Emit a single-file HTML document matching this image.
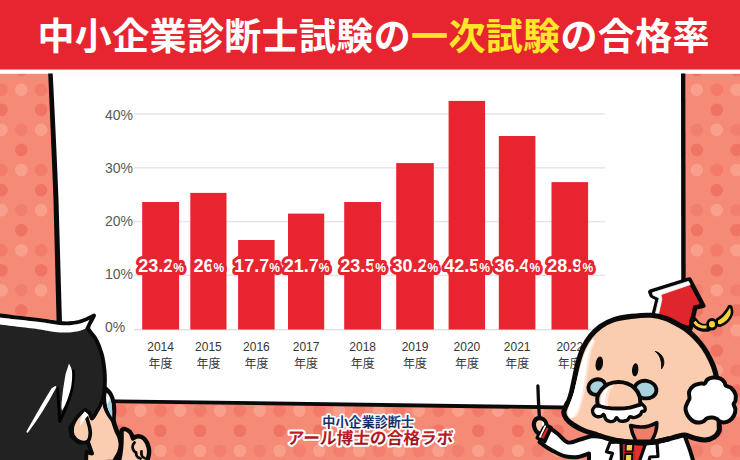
<!DOCTYPE html>
<html lang="ja"><head><meta charset="utf-8"><title>中小企業診断士試験の一次試験の合格率</title>
<style>
html,body{margin:0;padding:0;background:#fff;}
body{width:740px;height:460px;overflow:hidden;position:relative;font-family:"Liberation Sans",sans-serif;}
#stage{position:absolute;left:0;top:0;width:740px;height:460px;background:#f58a77;overflow:hidden;}
#stage svg{position:absolute;left:0;top:0;display:block;}
.sr{position:absolute;left:0;top:0;width:1px;height:1px;overflow:hidden;clip:rect(0 0 0 0);clip-path:inset(50%);white-space:nowrap;font-size:1px;color:transparent;}
</style></head><body>
<div id="stage">
<svg width="740" height="460" viewBox="0 0 740 460" role="img" aria-label="中小企業診断士試験の一次試験の合格率">
<g style="filter:blur(0.5px)"><circle cx="1.4" cy="89.8" r="6.3" fill="#f27b6a"/><circle cx="1.4" cy="109.8" r="6.3" fill="#f07463"/><circle cx="1.4" cy="129.9" r="6.3" fill="#f9a08c"/><circle cx="1.4" cy="170.0" r="6.3" fill="#f27b6a"/><circle cx="1.4" cy="190.1" r="6.3" fill="#f07463"/><circle cx="1.4" cy="210.1" r="6.3" fill="#f9a08c"/><circle cx="1.4" cy="250.2" r="6.3" fill="#f27b6a"/><circle cx="1.4" cy="270.2" r="6.3" fill="#f07463"/><circle cx="1.4" cy="290.3" r="6.3" fill="#f9a08c"/><circle cx="1.4" cy="410.6" r="6.3" fill="#f27b6a"/><circle cx="1.4" cy="430.7" r="6.3" fill="#f07463"/><circle cx="1.4" cy="450.7" r="6.3" fill="#f9a08c"/><circle cx="21.3" cy="69.8" r="6.3" fill="#f07463"/><circle cx="21.3" cy="89.8" r="6.3" fill="#f9a08c"/><circle cx="21.3" cy="129.9" r="6.3" fill="#f27f6e"/><circle cx="21.3" cy="149.9" r="6.3" fill="#f07463"/><circle cx="21.3" cy="170.0" r="6.3" fill="#f9a08c"/><circle cx="21.3" cy="210.1" r="6.3" fill="#f27f6e"/><circle cx="21.3" cy="230.1" r="6.3" fill="#f07463"/><circle cx="21.3" cy="250.2" r="6.3" fill="#f9a08c"/><circle cx="21.3" cy="290.3" r="6.3" fill="#f27f6e"/><circle cx="21.3" cy="310.4" r="6.3" fill="#f07463"/><circle cx="21.3" cy="410.6" r="6.3" fill="#f9a08c"/><circle cx="21.3" cy="450.7" r="6.3" fill="#f27f6e"/><circle cx="41.1" cy="89.8" r="6.3" fill="#f27b6a"/><circle cx="41.1" cy="109.8" r="6.3" fill="#f07463"/><circle cx="41.1" cy="129.9" r="6.3" fill="#f9a08c"/><circle cx="41.1" cy="170.0" r="6.3" fill="#f27b6a"/><circle cx="41.1" cy="190.1" r="6.3" fill="#f07463"/><circle cx="41.1" cy="210.1" r="6.3" fill="#f9a08c"/><circle cx="41.1" cy="250.2" r="6.3" fill="#f27b6a"/><circle cx="41.1" cy="270.2" r="6.3" fill="#f07463"/><circle cx="41.1" cy="290.3" r="6.3" fill="#f9a08c"/><circle cx="41.1" cy="410.6" r="6.3" fill="#f27b6a"/><circle cx="41.1" cy="430.7" r="6.3" fill="#f07463"/><circle cx="41.1" cy="450.7" r="6.3" fill="#f9a08c"/><circle cx="61.0" cy="410.6" r="6.3" fill="#f9a08c"/><circle cx="61.0" cy="450.7" r="6.3" fill="#f27f6e"/><circle cx="80.9" cy="410.6" r="6.3" fill="#f27b6a"/><circle cx="80.9" cy="430.7" r="6.3" fill="#f07463"/><circle cx="80.9" cy="450.7" r="6.3" fill="#f9a08c"/><circle cx="100.8" cy="410.6" r="6.3" fill="#f9a08c"/><circle cx="100.8" cy="450.7" r="6.3" fill="#f27f6e"/><circle cx="120.6" cy="410.6" r="6.3" fill="#f27b6a"/><circle cx="120.6" cy="430.7" r="6.3" fill="#f07463"/><circle cx="120.6" cy="450.7" r="6.3" fill="#f9a08c"/><circle cx="140.5" cy="410.6" r="6.3" fill="#f9a08c"/><circle cx="140.5" cy="450.7" r="6.3" fill="#f27f6e"/><circle cx="160.4" cy="410.6" r="6.3" fill="#f27b6a"/><circle cx="160.4" cy="430.7" r="6.3" fill="#f07463"/><circle cx="160.4" cy="450.7" r="6.3" fill="#f9a08c"/><circle cx="180.2" cy="410.6" r="6.3" fill="#f9a08c"/><circle cx="180.2" cy="450.7" r="6.3" fill="#f27f6e"/><circle cx="200.1" cy="410.6" r="6.3" fill="#f27b6a"/><circle cx="200.1" cy="430.7" r="6.3" fill="#f07463"/><circle cx="200.1" cy="450.7" r="6.3" fill="#f9a08c"/><circle cx="220.0" cy="410.6" r="6.3" fill="#f9a08c"/><circle cx="220.0" cy="450.7" r="6.3" fill="#f27f6e"/><circle cx="239.8" cy="410.6" r="6.3" fill="#f27b6a"/><circle cx="239.8" cy="430.7" r="6.3" fill="#f07463"/><circle cx="239.8" cy="450.7" r="6.3" fill="#f9a08c"/><circle cx="259.7" cy="410.6" r="6.3" fill="#f9a08c"/><circle cx="259.7" cy="450.7" r="6.3" fill="#f27f6e"/><circle cx="279.6" cy="410.6" r="6.3" fill="#f27b6a"/><circle cx="279.6" cy="430.7" r="6.3" fill="#f07463"/><circle cx="279.6" cy="450.7" r="6.3" fill="#f9a08c"/><circle cx="299.4" cy="410.6" r="6.3" fill="#f9a08c"/><circle cx="299.4" cy="450.7" r="6.3" fill="#f27f6e"/><circle cx="319.3" cy="410.6" r="6.3" fill="#f27b6a"/><circle cx="319.3" cy="430.7" r="6.3" fill="#f07463"/><circle cx="319.3" cy="450.7" r="6.3" fill="#f9a08c"/><circle cx="339.2" cy="410.6" r="6.3" fill="#f9a08c"/><circle cx="339.2" cy="450.7" r="6.3" fill="#f27f6e"/><circle cx="359.1" cy="410.6" r="6.3" fill="#f27b6a"/><circle cx="359.1" cy="430.7" r="6.3" fill="#f07463"/><circle cx="359.1" cy="450.7" r="6.3" fill="#f9a08c"/><circle cx="378.9" cy="410.6" r="6.3" fill="#f9a08c"/><circle cx="378.9" cy="450.7" r="6.3" fill="#f27f6e"/><circle cx="398.8" cy="410.6" r="6.3" fill="#f27b6a"/><circle cx="398.8" cy="430.7" r="6.3" fill="#f07463"/><circle cx="398.8" cy="450.7" r="6.3" fill="#f9a08c"/><circle cx="418.7" cy="410.6" r="6.3" fill="#f9a08c"/><circle cx="418.7" cy="450.7" r="6.3" fill="#f27f6e"/><circle cx="438.5" cy="410.6" r="6.3" fill="#f27b6a"/><circle cx="438.5" cy="430.7" r="6.3" fill="#f07463"/><circle cx="438.5" cy="450.7" r="6.3" fill="#f9a08c"/><circle cx="458.4" cy="410.6" r="6.3" fill="#f9a08c"/><circle cx="458.4" cy="450.7" r="6.3" fill="#f27f6e"/><circle cx="478.3" cy="410.6" r="6.3" fill="#f27b6a"/><circle cx="478.3" cy="430.7" r="6.3" fill="#f07463"/><circle cx="478.3" cy="450.7" r="6.3" fill="#f9a08c"/><circle cx="498.1" cy="410.6" r="6.3" fill="#f9a08c"/><circle cx="498.1" cy="450.7" r="6.3" fill="#f27f6e"/><circle cx="518.0" cy="410.6" r="6.3" fill="#f27b6a"/><circle cx="518.0" cy="430.7" r="6.3" fill="#f07463"/><circle cx="518.0" cy="450.7" r="6.3" fill="#f9a08c"/><circle cx="537.9" cy="410.6" r="6.3" fill="#f9a08c"/><circle cx="537.9" cy="450.7" r="6.3" fill="#f27f6e"/><circle cx="557.8" cy="410.6" r="6.3" fill="#f27b6a"/><circle cx="557.8" cy="430.7" r="6.3" fill="#f07463"/><circle cx="557.8" cy="450.7" r="6.3" fill="#f9a08c"/><circle cx="577.6" cy="410.6" r="6.3" fill="#f9a08c"/><circle cx="577.6" cy="450.7" r="6.3" fill="#f27f6e"/><circle cx="597.5" cy="410.6" r="6.3" fill="#f27b6a"/><circle cx="597.5" cy="430.7" r="6.3" fill="#f07463"/><circle cx="597.5" cy="450.7" r="6.3" fill="#f9a08c"/><circle cx="617.4" cy="410.6" r="6.3" fill="#f9a08c"/><circle cx="617.4" cy="450.7" r="6.3" fill="#f27f6e"/><circle cx="637.2" cy="410.6" r="6.3" fill="#f27b6a"/><circle cx="637.2" cy="430.7" r="6.3" fill="#f07463"/><circle cx="637.2" cy="450.7" r="6.3" fill="#f9a08c"/><circle cx="657.1" cy="410.6" r="6.3" fill="#f9a08c"/><circle cx="657.1" cy="450.7" r="6.3" fill="#f27f6e"/><circle cx="677.0" cy="410.6" r="6.3" fill="#f27b6a"/><circle cx="677.0" cy="430.7" r="6.3" fill="#f07463"/><circle cx="677.0" cy="450.7" r="6.3" fill="#f9a08c"/><circle cx="696.9" cy="69.8" r="6.3" fill="#f07463"/><circle cx="696.9" cy="89.8" r="6.3" fill="#f9a08c"/><circle cx="696.9" cy="129.9" r="6.3" fill="#f27f6e"/><circle cx="696.9" cy="149.9" r="6.3" fill="#f07463"/><circle cx="696.9" cy="170.0" r="6.3" fill="#f9a08c"/><circle cx="696.9" cy="210.1" r="6.3" fill="#f27f6e"/><circle cx="696.9" cy="230.1" r="6.3" fill="#f07463"/><circle cx="696.9" cy="250.2" r="6.3" fill="#f9a08c"/><circle cx="696.9" cy="290.3" r="6.3" fill="#f27f6e"/><circle cx="696.9" cy="310.4" r="6.3" fill="#f07463"/><circle cx="696.9" cy="330.4" r="6.3" fill="#f9a08c"/><circle cx="696.9" cy="370.5" r="6.3" fill="#f27f6e"/><circle cx="696.9" cy="390.6" r="6.3" fill="#f07463"/><circle cx="696.9" cy="410.6" r="6.3" fill="#f9a08c"/><circle cx="696.9" cy="450.7" r="6.3" fill="#f27f6e"/><circle cx="716.7" cy="89.8" r="6.3" fill="#f27b6a"/><circle cx="716.7" cy="109.8" r="6.3" fill="#f07463"/><circle cx="716.7" cy="129.9" r="6.3" fill="#f9a08c"/><circle cx="716.7" cy="170.0" r="6.3" fill="#f27b6a"/><circle cx="716.7" cy="190.1" r="6.3" fill="#f07463"/><circle cx="716.7" cy="210.1" r="6.3" fill="#f9a08c"/><circle cx="716.7" cy="250.2" r="6.3" fill="#f27b6a"/><circle cx="716.7" cy="270.2" r="6.3" fill="#f07463"/><circle cx="716.7" cy="290.3" r="6.3" fill="#f9a08c"/><circle cx="716.7" cy="330.4" r="6.3" fill="#f27b6a"/><circle cx="716.7" cy="350.5" r="6.3" fill="#f07463"/><circle cx="716.7" cy="370.5" r="6.3" fill="#f9a08c"/><circle cx="716.7" cy="410.6" r="6.3" fill="#f27b6a"/><circle cx="716.7" cy="430.7" r="6.3" fill="#f07463"/><circle cx="716.7" cy="450.7" r="6.3" fill="#f9a08c"/><circle cx="736.6" cy="69.8" r="6.3" fill="#f07463"/><circle cx="736.6" cy="89.8" r="6.3" fill="#f9a08c"/><circle cx="736.6" cy="129.9" r="6.3" fill="#f27f6e"/><circle cx="736.6" cy="149.9" r="6.3" fill="#f07463"/><circle cx="736.6" cy="170.0" r="6.3" fill="#f9a08c"/><circle cx="736.6" cy="210.1" r="6.3" fill="#f27f6e"/><circle cx="736.6" cy="230.1" r="6.3" fill="#f07463"/><circle cx="736.6" cy="250.2" r="6.3" fill="#f9a08c"/><circle cx="736.6" cy="290.3" r="6.3" fill="#f27f6e"/><circle cx="736.6" cy="310.4" r="6.3" fill="#f07463"/><circle cx="736.6" cy="330.4" r="6.3" fill="#f9a08c"/><circle cx="736.6" cy="370.5" r="6.3" fill="#f27f6e"/><circle cx="736.6" cy="390.6" r="6.3" fill="#f07463"/><circle cx="736.6" cy="410.6" r="6.3" fill="#f9a08c"/><circle cx="736.6" cy="450.7" r="6.3" fill="#f27f6e"/></g>
<rect x="0" y="69" width="740" height="4.8" fill="#fff"/>
<path d="M50.2 73.5 L683 73.5 L683 409 L600 408 L100 401 L59.5 400 L56 200 Z" fill="#fff"/>
<path d="M48.2 73.5 L52.7 73.5 Q56.6 150 58.5 200 L62.2 330 L56.8 330 L53.5 200 Q51.6 150 48.2 73.5 Z" fill="#0a0a0a"/>
<path d="M681 73.5 L685.3 73.5 L685.8 340 L681.3 340 Z" fill="#0a0a0a"/>
<path d="M100 399.3 L600 405.9 L600 409.9 L100 402.9 Z" fill="#0a0a0a"/>
<rect x="134" y="113.2" width="471" height="1.5" fill="#e6e6e6"/>
<rect x="134" y="167.1" width="471" height="1.5" fill="#e6e6e6"/>
<rect x="134" y="220.9" width="471" height="1.5" fill="#e6e6e6"/>
<rect x="134" y="274.6" width="471" height="1.5" fill="#e6e6e6"/>
<rect x="134" y="329" width="471" height="1.3" fill="#ddd"/>
<rect x="142.2" y="202.0" width="36.9" height="127.5" fill="#e72430"/>
<rect x="190.3" y="192.9" width="36.2" height="136.6" fill="#e72430"/>
<rect x="238.1" y="240.0" width="36.5" height="89.5" fill="#e72430"/>
<rect x="288.0" y="213.6" width="36.2" height="115.9" fill="#e72430"/>
<rect x="344.2" y="202.0" width="36.9" height="127.5" fill="#e72430"/>
<rect x="396.2" y="163.1" width="37.6" height="166.4" fill="#e72430"/>
<rect x="448.6" y="100.9" width="36.5" height="228.6" fill="#e72430"/>
<rect x="498.8" y="136.0" width="36.6" height="193.5" fill="#e72430"/>
<rect x="551.5" y="182.1" width="36.6" height="147.4" fill="#e72430"/>
<g font-family="'Liberation Sans', 'Noto Sans CJK JP', sans-serif" font-size="14" fill="#595959">
<text x="105" y="120">40%</text>
<text x="105" y="173">30%</text>
<text x="105" y="226">20%</text>
<text x="105" y="279">10%</text>
<text x="105" y="332">0%</text>
</g>
<g font-family="'Liberation Sans', 'Noto Sans CJK JP', sans-serif" font-size="12" fill="#363636" text-anchor="middle">
<text x="160.6" y="351.1">2014</text><text x="160.6" y="368.4">年度</text>
<text x="208.4" y="351.1">2015</text><text x="208.4" y="368.4">年度</text>
<text x="256.4" y="351.1">2016</text><text x="256.4" y="368.4">年度</text>
<text x="306.1" y="351.1">2017</text><text x="306.1" y="368.4">年度</text>
<text x="362.7" y="351.1">2018</text><text x="362.7" y="368.4">年度</text>
<text x="415" y="351.1">2019</text><text x="415" y="368.4">年度</text>
<text x="466.9" y="351.1">2020</text><text x="466.9" y="368.4">年度</text>
<text x="517.2" y="351.1">2021</text><text x="517.2" y="368.4">年度</text>
<text x="569.8" y="351.1">2022</text><text x="569.8" y="368.4">年度</text>
</g>
<g font-family="'Liberation Sans', 'Noto Sans CJK JP', sans-serif" font-size="18" font-weight="bold" fill="#fff" stroke="#e72430" stroke-width="6" stroke-linejoin="round" paint-order="stroke" text-anchor="middle">
<text x="161" y="272">23.2<tspan font-size="12">%</tspan></text>
<text x="208.8" y="272">26<tspan font-size="12">%</tspan></text>
<text x="257" y="272">17.7<tspan font-size="12">%</tspan></text>
<text x="306.5" y="272">21.7<tspan font-size="12">%</tspan></text>
<text x="363" y="272">23.5<tspan font-size="12">%</tspan></text>
<text x="415.3" y="272">30.2<tspan font-size="12">%</tspan></text>
<text x="467" y="272">42.5<tspan font-size="12">%</tspan></text>
<text x="517.4" y="272">36.4<tspan font-size="12">%</tspan></text>
<text x="570.2" y="272">28.9<tspan font-size="12">%</tspan></text>
</g>
<rect x="0" y="0" width="740" height="69.5" fill="#e72530"/>
<text x="37.5" y="49.5" font-family="'Liberation Sans', 'Noto Sans CJK JP', sans-serif" font-size="37" font-weight="bold" fill="#fff" textLength="672" lengthAdjust="spacing">中小企業診断士試験の<tspan fill="#ffe629">一次試験</tspan>の合格率</text>
<defs><linearGradient id="gn" x1="0" y1="0" x2="0" y2="1"><stop offset="0" stop-color="#21407f"/><stop offset="1" stop-color="#0f1f55"/></linearGradient><linearGradient id="gr" x1="0" y1="0" x2="0" y2="1"><stop offset="0" stop-color="#cf222e"/><stop offset="1" stop-color="#86121d"/></linearGradient></defs>
<text x="368.2" y="427.3" text-anchor="middle" font-family="'Liberation Sans', 'Noto Sans CJK JP', sans-serif" font-size="13.1" font-weight="bold" fill="url(#gn)" stroke="#fff" stroke-width="3.4" stroke-linejoin="round" paint-order="stroke">中小企業診断士</text>
<g transform="translate(286 443.8) skewX(-4)">
<text x="1" y="0" font-family="'Liberation Sans', 'Noto Sans CJK JP', sans-serif" font-size="16.7" font-weight="bold" fill="url(#gr)" stroke="#fff" stroke-width="4" stroke-linejoin="round" paint-order="stroke">アール博士の合格ラボ</text>
</g>
<g stroke-linejoin="round" stroke-linecap="round">
<path d="M104 392C105 394.2 108.4 400.2 110 405C111.6 409.8 112.3 416.8 113.4 421C114.5 425.2 115.6 427.8 116.6 430.5C117.6 433.2 118.9 434.8 119.6 437C120.3 439.2 121 441.4 121 444C121 446.6 120.6 449.5 119.4 452.5C118.2 455.5 114.9 460.4 114 462L70 464 L80 410 Z" fill="#fbcdb0" stroke="#0a0a0a" stroke-width="4.8"/>
<path d="M121.5 431 C123 428 127 428.5 130 432 C132 434.5 132.5 437 133 438.5 C136 435.5 141 435.5 144.5 439 C148.5 443.5 150.5 451 148 458 L146 464 L118 464 C121 455 122 445 121.5 431 Z" fill="#fbcdb0" stroke="#0a0a0a" stroke-width="4.4"/>
<path d="M134.5 442.5 C131.5 445.5 132 450.5 136 452.5 M136 452.5 C136 456 138 458 140.5 458.5 M141.5 451.5 C141 455 142.5 457.5 144.5 458" fill="none" stroke="#0a0a0a" stroke-width="2.8"/>
<path d="M-6 314.6C-5 314.8 -4.3 314.9 0 315.5C4.3 316.1 13.3 317.1 20 317.9C26.7 318.7 35 319.5 40 320.1C45 320.7 46.5 321.1 49.8 321.6C53 322.1 56.2 322.7 59.5 323C62.8 323.3 66 323.5 69.3 323.3C72.6 323.1 76.2 322.5 79.1 321.9C81.9 321.2 83.9 320.4 86.4 319.4C88.9 318.3 92.7 316.2 94 315.6C93.5 316.6 92 319.4 91 321.5C90 323.6 87.7 325.9 88.3 328.5C88.9 331.1 93 334.6 94.7 337.3C96.4 340 97.5 342.5 98.5 344.8C99.5 347.1 100 348.8 100.7 351C101.4 353.2 102.1 354.9 102.7 358C103.3 361.1 104 365.9 104.4 369.6C104.8 373.3 104.9 376.6 104.9 380C104.9 383.4 104.6 388.3 104.6 390C104.3 391.3 103.8 395.3 103 398C102.2 400.7 101 403.4 99.8 406C98.5 408.6 96.8 411.4 95.5 413.5C94.2 415.6 93 418.6 92 418.5C91 418.4 90.8 414.4 89.6 413C88.4 411.6 85.8 410.3 85 409.8L76 420 L70 427.5 L71.5 436 L79 442.5 L88 442 L92 453.5 L86.5 452 L86 464 L-6 464 Z" fill="#222222" stroke="#0a0a0a" stroke-width="3.9"/>
<path d="M-6 316.5C-5 316.6 -4.3 316.8 0 317.4C4.3 317.9 13.3 319 20 319.8C26.7 320.6 35 321.4 40 322C45 322.6 46.5 323 49.8 323.5C53 324 56.2 324.6 59.5 324.9C62.8 325.2 66 325.4 69.3 325.2C72.6 325 76.2 324.4 79.1 323.8C81.9 323.1 84.7 322 86.4 321.3C88.2 320.6 89.1 319.7 89.6 319.4L85 329C84 329.3 81.7 330.3 79.1 330.9C76.5 331.5 72.6 332.1 69.3 332.4C66 332.6 62.8 332.6 59.5 332.4C56.2 332.2 53 331.7 49.8 331.2C46.5 330.7 45 330.1 40 329.4C35 328.7 26.7 327.8 20 327C13.3 326.2 4.3 325 0 324.5C-4.3 324 -5 323.9 -6 323.8Z" fill="#fff"/>
<path d="M73.4 371 C74.4 386 69 403 59.7 421.5 L57.6 388.5" fill="none" stroke="#000" stroke-width="2.8"/>
<path d="M69 363.6C69.5 364.9 71.6 367.7 72 371.5C72.4 375.3 72.1 381.5 71.2 386.4C70.3 391.3 68.3 396.9 66.8 401C65.3 405.1 62.9 409.2 62.1 410.8C62 410 61.3 409.1 61.4 406C61.5 402.9 62.1 397.3 62.8 392C63.5 386.7 65.1 377 65.6 374Z" fill="#fff"/>
<path d="M55.4 387 C48 401 38.5 417 27.4 431.8 C34 420 43 404 52.4 388.8 Z" fill="#fff" stroke="#fff" stroke-width="1.9"/>
<path d="M84.6 410.3C83.7 411.1 80.6 413.2 79 415C77.4 416.8 75.9 418.8 74.8 420.9C73.7 423 72.6 424.9 72.3 427.4C72 429.8 71.8 433.2 73 435.6C74.2 438 77.2 440.7 79.7 441.6C82.2 442.6 86 442.6 87.8 441.3C89.6 440 90 436.4 90.3 434C90.6 431.6 89.6 428.2 89.5 427 Z" fill="#fbcdb0" stroke="#0a0a0a" stroke-width="3.6"/>
<path d="M85 411 C81.5 415 79.8 420 80.6 426 C82.8 421.5 85.8 417.6 88.6 415 Z" fill="#fff"/>
<path d="M89.5 427.4 C90.8 432 90.2 437.5 87.8 441.6 M87.8 442 C89 446 90.4 450 91.9 453.5" fill="none" stroke="#0a0a0a" stroke-width="2.6"/>
<path d="M104 392C103.8 393 103.7 395.7 103 398C102.3 400.3 101 403.4 99.8 406C98.5 408.6 96.8 411.4 95.5 413.5C94.2 415.6 93 418.6 92 418.5C91 418.4 90.7 414.4 89.6 413C88.5 411.6 86.2 410.3 85.5 409.8L84 404 L96 392 Z" fill="#222222"/>
<path d="M104 392C103.8 393 103.7 395.7 103 398C102.3 400.3 101 403.4 99.8 406C98.5 408.6 96.8 411.4 95.5 413.5C94.2 415.6 93 418.6 92 418.5C91 418.4 90.7 414.4 89.6 413C88.5 411.6 86.2 410.3 85.5 409.8" fill="none" stroke="#0a0a0a" stroke-width="3.4"/>
<path d="M105.2 388.2C106.1 389.2 109.2 391.7 110.6 394C112 396.3 112.8 399.2 113.4 402C114 404.8 114.2 407.8 114.2 411C114.2 414.2 113.5 419.3 113.4 421C112.6 419.9 110 416.8 108.6 414.5C107.2 412.2 106 409.8 105.2 407C104.4 404.2 104 401.1 104 398C104 394.9 105 389.8 105.2 388.2Z" fill="#fff" stroke="#0a0a0a" stroke-width="4.2"/>
<path d="M109.8 398.5 C112 403.5 112.6 410.5 112.2 417.6 C109.6 413.6 107.6 409 106.8 404.4 C108.2 403 109.3 400.8 109.8 398.5 Z" fill="#a6d8e4"/>
</g>
<g stroke-linejoin="round" stroke-linecap="round">
<path d="M549 427.5C550.5 428.6 554.8 431.5 558 434C561.2 436.5 564.3 441.6 568 442.5C571.7 443.4 576 440.6 580 439.5C584 438.4 590 436.6 592 436L640 440 L684.4 435C684.8 436.1 685.8 438.8 686.8 441.5C687.8 444.2 689 447.2 690.2 451C691.4 454.8 693.5 461.8 694.2 464L589 464 L589 453.5C587.2 454.1 581.8 456.5 578 457C574.2 457.5 569.7 457.2 566 456.5C562.3 455.8 559.2 454 556 452.5C552.8 451 549.8 449.2 547 447.5C544.2 445.8 540.8 442.9 539.5 442Z" fill="#fff" stroke="#0a0a0a" stroke-width="4"/>
<path d="M621 442 L646 442.5 L640 464 L621.5 464 Z" fill="#c9222b" stroke="#0a0a0a" stroke-width="2.6"/>
<path d="M635 444.5 L645.5 444.5 L638.5 459.5 L635 460 Z" fill="#e3302b"/>
<path d="M626 444 L633.2 444 L632.6 451.3 L625.6 451.3 Z" fill="#f6d53c" stroke="#0a0a0a" stroke-width="1.8"/>
<path d="M625.4 454 L632.2 454 L631.8 462 L624.8 462 Z" fill="#f6d53c" stroke="#0a0a0a" stroke-width="1.8"/>
<path d="M610 442.5 L606.5 451.7 L612.4 453.4 L609 464 L621.5 464 L621 442 Z" fill="#fff" stroke="#0a0a0a" stroke-width="3.2"/>
<path d="M646 442.5 L657 443 L658 456.5 L650 457 L648 464 L638.5 464 Z" fill="#fff" stroke="#0a0a0a" stroke-width="3.2"/>
<path d="M537.9 386 C538.3 398 538.7 408 539.5 418" fill="none" stroke="#0a0a0a" stroke-width="3.3"/>
<path d="M544 424 L551 427.6 L544.6 441.4 L537.4 437.8 Z" fill="#e0262d" stroke="#0a0a0a" stroke-width="3.8"/>
<path d="M534.8 428.5 C532.6 423.5 534.5 418.8 538.6 418.2 C542.3 417.7 545.3 420 546.3 423.5 L541 434 C538 433.6 535.8 431.4 534.8 428.5 Z" fill="#fbcdb0" stroke="#0a0a0a" stroke-width="4.2"/>
<path d="M542.6 421.2 C543.6 422 544.2 423 544.4 424 L542.8 427 C542 425.5 541.8 423.5 542.6 421.2 Z" fill="#fff"/>
<path d="M545.2 426.2 L540 436.8" fill="none" stroke="#fff" stroke-width="1.7"/>
<path d="M650.3 291.8 L689.5 279.5 L703.3 305.8 L695.2 307.5 L690.3 329 L653.3 316.5 L657.8 298.6 L651.8 295.5Z" fill="#e0262d" stroke="#0a0a0a" stroke-width="4.6"/>
<path d="M652.8 292.6 L688.4 281.4 L690.2 284.6 L661 294.6 L661.8 299.6 L657.8 317.2 L654.8 316.2 L659.2 298 L653.2 295.2 Z" fill="#fff" stroke="#fff" stroke-width="0.8"/>
<path d="M693.5 320.8C694.1 321.5 695.6 324.1 697 325.2C698.4 326.3 700.2 327.2 702 327.6C703.8 328 706.6 327.8 707.5 327.8" fill="none" stroke="#0a0a0a" stroke-width="8"/>
<path d="M718 320.6C718.9 319.9 721.9 317.9 723.5 316.4C725.1 314.9 726.5 312.9 727.6 311.4C728.7 309.9 729.6 308.1 730 307.4C730.1 308.2 730.9 310.5 730.8 312C730.7 313.5 730.2 314.9 729.4 316.4C728.5 317.9 727.2 319.7 725.7 321C724.2 322.3 721.5 323.8 720.2 324.2C718.9 324.6 718.4 323.7 718 323.6Z" fill="#0a0a0a" stroke="#0a0a0a" stroke-width="5.2"/>
<ellipse cx="712" cy="324.2" rx="3.3" ry="3.6" fill="#0a0a0a" stroke="#0a0a0a" stroke-width="5.2"/>
<path d="M694.5 321.8C695 322.3 696.4 324.1 697.6 325C698.9 325.9 700.5 326.6 702 326.9C703.5 327.2 705.8 327 706.5 327" fill="none" stroke="#f6d53c" stroke-width="3" stroke-linecap="butt"/>
<ellipse cx="712" cy="324.2" rx="3" ry="3.3" fill="#f6d53c"/>
<path d="M718 320.6C718.9 319.9 721.9 317.9 723.5 316.4C725.1 314.9 726.5 312.9 727.6 311.4C728.7 309.9 729.6 308.1 730 307.4C730.1 308.2 730.9 310.5 730.8 312C730.7 313.5 730.2 314.9 729.4 316.4C728.5 317.9 727.2 319.7 725.7 321C724.2 322.3 721.5 323.8 720.2 324.2C718.9 324.6 718.4 323.7 718 323.6Z" fill="#f6d53c"/>
<path d="M563.8 412.6C563.8 410.3 565.5 407.2 566.3 405.2C567.1 403.2 567.9 402.8 568.8 400.6C569.7 398.4 570.7 395.4 571.6 391.8C572.5 388.2 573.4 383.6 574.4 378.8C575.4 374 576.5 368.3 577.9 363.2C579.3 358.1 580.9 352.7 583 348.2C585.1 343.7 587.5 339.8 590.4 336.2C593.3 332.6 596.7 329.2 600.6 326.4C604.5 323.6 608.9 321.3 614 319.6C619.1 317.9 625.3 317.1 631.4 316.4C637.5 315.7 644.9 314.9 650.7 315.3C656.5 315.7 661.1 316.8 666 318.5C670.9 320.2 675.9 323.2 680 325.6C684.1 328 687.2 330.1 690.5 333C693.8 335.9 697.2 339.5 700 342.8C702.8 346.1 704.8 349.1 707 353C709.2 356.9 711.8 362 713.5 366.5C715.2 371 716.1 375.2 717 380C717.9 384.8 718.6 390 719 395C719.4 400 719.3 405.2 719.3 410C719.3 414.8 719.2 420.5 719.2 424C719.2 427.5 719.8 428.9 719 431C718.2 433.1 716.8 435.3 714.5 436.8C712.2 438.3 708.4 439.8 705 440C701.6 440.2 697.3 438.8 694 438C690.7 437.2 688 435.2 685 435C682 434.8 678.8 436.1 676 436.8C673.2 437.5 671.2 438.2 668 439C664.8 439.8 660.7 440.9 657 441.5C653.3 442.1 650 442.7 646 442.8C642 442.9 637.7 442.8 633 442.4C628.3 442 622.4 441.4 618 440.7C613.6 440 610.2 439.1 606.5 438C602.8 436.9 599.8 435.6 596 434.3C592.2 433.1 587.8 432.1 584 430.5C580.2 428.9 576.4 426.9 573.5 425C570.6 423.1 568.1 421.1 566.5 419C564.9 416.9 563.8 414.9 563.8 412.6Z" fill="#fbcdb0" stroke="#0a0a0a" stroke-width="5.1"/>
<path d="M593 338.5C591.9 340.4 588.2 345.8 586.2 350C584.2 354.2 582.7 358.8 581.2 363.5C579.7 368.2 578.6 373.8 577.4 378.5C576.2 383.2 575.2 387.8 574.2 391.5C573.2 395.2 572.2 397.8 571.2 400.5C570.2 403.2 569.1 405.8 568.5 408C567.9 410.2 567.5 412.2 567.8 414C568.1 415.8 570 417.8 570.5 418.5C571.5 418.1 575 417.8 576.7 416C578.4 414.2 579.4 412 580.7 408C582 404 583.4 398.7 584.7 392C586 385.3 587.6 374.5 588.6 368C589.6 361.5 589.8 357.5 591 353C592.2 348.5 594.8 343 595.6 341Z" fill="#fde4d4"/>
<path d="M593 338.5C591.9 340.4 588.2 345.8 586.2 350C584.2 354.2 582.7 358.8 581.2 363.5C579.7 368.2 578.6 373.8 577.4 378.5C576.2 383.2 575.2 387.8 574.2 391.5C573.2 395.2 572.2 397.8 571.2 400.5C570.2 403.2 569.1 405.8 568.5 408C567.9 410.2 567.5 412.2 567.8 414C568.1 415.8 570 417.8 570.5 418.5C571.2 418.1 573.2 417.8 574.5 416C575.8 414.2 577.2 412 578.5 408C579.8 404 581.2 398.7 582.5 392C583.8 385.3 585.4 374.5 586.4 368C587.4 361.5 587.6 357.5 588.8 353C590 348.5 592.6 343 593.4 341Z" fill="#fff"/>
<ellipse cx="599.3" cy="363.7" rx="3.7" ry="7.2" fill="#0a0a0a" transform="rotate(8 599.3 363.7)"/>
<ellipse cx="635.2" cy="369.8" rx="3.2" ry="6.6" fill="#0a0a0a" transform="rotate(5 635.2 369.8)"/>
<path d="M655.6 351.6 C660 352.5 663.4 356.5 663.8 361.5 C664 364.5 663 367 661.6 368.8 C661.8 365.5 661.6 361.5 660.4 358.5 C659.4 355.8 657.8 353.4 655.6 351.6 Z" fill="#0a0a0a" stroke="#0a0a0a" stroke-width="1"/>
<ellipse cx="597" cy="387" rx="8.8" ry="7.6" fill="#a9d3dc" stroke="#0a0a0a" stroke-width="3.8" transform="rotate(-20 597 387)"/>
<ellipse cx="645.5" cy="389.6" rx="11" ry="8.8" fill="#a9d3dc" stroke="#0a0a0a" stroke-width="3.8" transform="rotate(8 645.5 389.6)"/>
<path d="M595.2 406C594.8 406.6 592.9 408.5 592.6 409.8C592.3 411.1 592.7 412.9 593.4 414C594.1 415.1 595.7 416.2 597 416.6C598.3 417 599.9 416.7 601 416.4C602.1 416.1 603 414.1 603.8 414.6C604.6 415.1 604.9 418.3 606 419.5C607.1 420.7 609.1 421.4 610.5 421.6C611.9 421.8 613.5 421.1 614.5 420.5C615.5 419.9 615.7 417.8 616.5 417.8C617.3 417.9 618.4 420.2 619.5 420.8C620.6 421.4 621.9 421.3 623.2 421.2C624.5 421.1 626.4 420.7 627.5 420C628.6 419.3 628.9 417.2 629.9 416.8C630.9 416.4 632.3 417.6 633.5 417.6C634.7 417.6 636 417.1 637.2 416.6C638.4 416.1 639.7 415.4 640.5 414.5C641.3 413.6 641.1 412.1 641.8 411.5C642.5 410.9 644.1 411.7 644.6 411C645.1 410.3 645.4 408.7 645 407.5C644.6 406.3 642.5 404.6 642 404 Z" fill="#fff" stroke="#0a0a0a" stroke-width="3.4"/>
<path d="M597.6 405C597.6 403.7 596.8 399.6 597.4 397C598 394.4 599.6 391.7 601.5 389.5C603.4 387.3 605.8 385.2 608.5 384C611.2 382.8 614.6 382.1 617.8 382C621 381.9 624.6 382.5 627.5 383.6C630.4 384.7 633 386.4 635 388.5C637 390.6 638.6 393.3 639.5 396C640.4 398.7 640.2 403.1 640.4 404.5C638.7 405 633.8 406.9 630 407.6C626.2 408.3 621.8 408.6 617.8 408.6C613.8 408.6 609.4 408.2 606 407.6C602.6 407 599 405.4 597.6 405Z" fill="#fbcdb0" stroke="#0a0a0a" stroke-width="4"/>
<path d="M600.6 404.4 C599.6 396 603.5 389 610.5 385.6 C606.5 391 604.8 398.5 605.6 405.8 Z" fill="#fff"/>
<path d="M605.6 405.8 C604.8 398.5 606.5 391 610.5 385.6 C612 385 613.5 384.6 614.5 384.5 C609.5 390 607.5 398 608.2 406.3 Z" fill="#fde4d4"/>
<path d="M630.6 425.6 C640 428.2 649.5 427 656.8 422.6 C657 429 655 435.5 651.5 441 L636 441.4 C633.4 436.5 631.6 431.5 630.6 425.6 Z" fill="#ef7d69" stroke="#0a0a0a" stroke-width="3.6"/>
<path d="M618 440.7C620.5 441 628.3 442 633 442.4C637.7 442.8 642 442.9 646 442.8C650 442.7 653.3 442.1 657 441.5C660.7 440.9 666.2 439.4 668 439" fill="none" stroke="#0a0a0a" stroke-width="5.1"/>
<path d="M685.6 407.5C685.9 405.7 687.4 403 688 401.5C688.6 400 689.3 400.3 689.5 398.6C689.7 396.9 688.5 393.6 689.2 391.5C689.9 389.4 691.7 387.1 693.5 385.8C695.3 384.5 698.1 384 700 383.6C701.9 383.2 703.4 384.1 704.6 383.4C705.9 382.7 706.1 380.5 707.5 379.5C708.9 378.5 710.8 377.8 713 377.6C715.2 377.5 718.6 377.8 720.5 378.6C722.4 379.4 723.7 381.2 724.6 382.4C725.5 383.6 724.6 384.6 725.8 385.6C726.9 386.6 729.9 386.7 731.5 388.2C733.1 389.7 735 392.4 735.6 394.5C736.2 396.6 735.7 399.4 735.4 401C735.1 402.6 733.6 402.9 733.6 404.2C733.6 405.5 735.3 407.1 735.4 409C735.5 410.9 735 413.6 734 415.5C733 417.4 731.2 419.5 729.5 420.6C727.8 421.8 725.6 422.3 723.9 422.4C722.2 422.5 720.7 421.8 719.5 421.2C718.3 420.6 717.7 419.4 716.5 418.8C715.3 418.2 714.1 417.7 712.5 417.6C710.9 417.5 708.4 417.8 707 418.4C705.6 419 705.2 420.3 704 421C702.8 421.7 701.2 422.5 699.5 422.6C697.8 422.7 695.7 422.4 694 421.6C692.3 420.8 690.5 419.1 689.2 417.6C687.9 416.1 686.9 414.2 686.3 412.5C685.7 410.8 685.3 409.3 685.6 407.5Z" fill="#fff" stroke="#0a0a0a" stroke-width="4"/>
</g>
</svg>
<div class="sr">
<h1>中小企業診断士試験の一次試験の合格率</h1>
<table><tr><th>年度</th><th>合格率</th></tr>
<tr><td>2014年度</td><td>23.2%</td></tr><tr><td>2015年度</td><td>26%</td></tr><tr><td>2016年度</td><td>17.7%</td></tr><tr><td>2017年度</td><td>21.7%</td></tr><tr><td>2018年度</td><td>23.5%</td></tr><tr><td>2019年度</td><td>30.2%</td></tr><tr><td>2020年度</td><td>42.5%</td></tr><tr><td>2021年度</td><td>36.4%</td></tr><tr><td>2022年度</td><td>28.9%</td></tr>
</table>
<p>40% 30% 20% 10% 0%</p>
<p>中小企業診断士 アール博士の合格ラボ</p>
</div>
</div>
</body></html>
